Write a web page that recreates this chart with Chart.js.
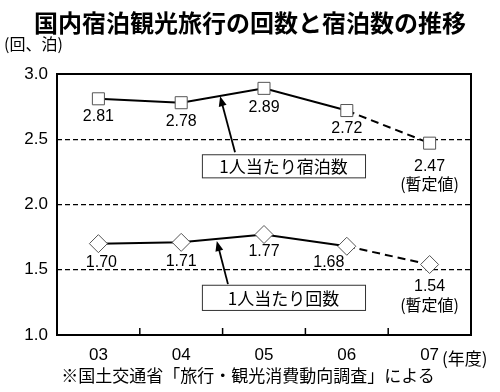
<!DOCTYPE html>
<html>
<head>
<meta charset="utf-8">
<script src="https://cdn.jsdelivr.net/npm/chart.js@4.4.0/dist/chart.umd.min.js"></script>
<style>
body { margin: 0; background: #fff; }
#wrap { position: relative; width: 500px; height: 392px; }
#c { display: block; }
.t { position: absolute; white-space: nowrap; font-family: 'Noto Sans CJK JP'; color: #000; line-height: 1; }
</style>
</head>
<body>
<div id="wrap">
  <canvas id="c" width="500" height="392"></canvas>
  <div class="t" style="left:0;width:500px;text-align:center;top:10px;font-size:24px;font-weight:700;">国内宿泊観光旅行の回数と宿泊数の推移</div>
  <div class="t" style="left:4px;top:35px;font-size:16px;">(回、泊)</div>
  <div class="t" style="left:442px;top:349px;font-size:17px;">(年度)</div>
  <div class="t" style="left:0;width:496px;text-align:center;top:366px;font-size:17px;">※国土交通省「旅行・観光消費動向調査」による</div>
</div>
<script>
// データ
const years = ['03', '04', '05', '06', '07'];
const stayNights = [2.81, 2.78, 2.89, 2.72, 2.47];   // 1人当たり宿泊数
const tripCount = [1.70, 1.71, 1.77, 1.68, 1.54];    // 1人当たり回数
const yTicks = [1.0, 1.5, 2.0, 2.5, 3.0];
const provisional = '(暫定値)';

// ラベル位置のずれ (px)
const labelDx = [[0, 0, 0, 0, 0], [3, 0, 0, -18, 0]];
const labelDy = [[18, 19, 19, 18, 23], [19, 19, 17, 16, 22]];

// 吹き出し (x は項目の位置, y は値)
const callouts = [
  { text: '1人当たり宿泊数', box: [1.25, 3.22, 2.385, 2.208], from: [1.65, 2.40], to: [1.47, 2.83] },
  { text: '1人当たり回数', box: [1.25, 3.22, 1.385, 1.192], from: [1.565, 1.39], to: [1.43, 1.72] }
];

const numFont = "'Liberation Sans', Arial, sans-serif";
const jpFont = "'Noto Sans CJK JP', sans-serif";

// 枠と x 軸の目盛り
const framePlugin = {
  id: 'frame',
  beforeDatasetsDraw(chart) {
    const { ctx, chartArea: a, scales: { x } } = chart;
    ctx.save();
    ctx.strokeStyle = '#000';
    ctx.lineWidth = 2;
    ctx.strokeRect(a.left, a.top, a.right - a.left, a.bottom - a.top);
    ctx.lineWidth = 1.5;
    for (let i = 0; i < years.length - 1; i++) {
      const px = (x.getPixelForValue(i) + x.getPixelForValue(i + 1)) / 2;
      ctx.beginPath();
      ctx.moveTo(px, a.bottom);
      ctx.lineTo(px, a.bottom - 7);
      ctx.stroke();
    }
    ctx.restore();
  }
};

// 数値ラベル
const valuePlugin = {
  id: 'values',
  afterDatasetsDraw(chart) {
    const ctx = chart.ctx;
    ctx.save();
    ctx.fillStyle = '#000';
    ctx.textAlign = 'center';
    ctx.textBaseline = 'middle';
    chart.data.datasets.forEach((ds, di) => {
      chart.getDatasetMeta(di).data.forEach((pt, i) => {
        const tx = pt.x + labelDx[di][i];
        const ty = pt.y + labelDy[di][i];
        ctx.font = '16px ' + numFont;
        ctx.fillText(ds.data[i].toFixed(2), tx, ty);
        if (i === ds.data.length - 1) {
          ctx.font = '16px ' + jpFont;
          ctx.fillText(provisional, tx, ty + 18);
        }
      });
    });
    ctx.restore();
  }
};

// 吹き出しと矢印
const calloutPlugin = {
  id: 'callouts',
  afterDatasetsDraw(chart) {
    const { ctx, scales: { x, y } } = chart;
    ctx.save();
    callouts.forEach(c => {
      const l = x.getPixelForValue(c.box[0]), r = x.getPixelForValue(c.box[1]);
      const t = y.getPixelForValue(c.box[2]), b = y.getPixelForValue(c.box[3]);
      ctx.fillStyle = '#fff';
      ctx.fillRect(l, t, r - l, b - t);
      ctx.strokeStyle = '#333';
      ctx.lineWidth = 1;
      ctx.strokeRect(l + 0.5, t + 0.5, r - l, b - t);
      ctx.fillStyle = '#000';
      ctx.font = '17px ' + jpFont;
      ctx.textAlign = 'center';
      ctx.textBaseline = 'middle';
      ctx.fillText(c.text, (l + r) / 2, (t + b) / 2 + 1);

      const fx = x.getPixelForValue(c.from[0]), fy = y.getPixelForValue(c.from[1]);
      const ex = x.getPixelForValue(c.to[0]), ey = y.getPixelForValue(c.to[1]);
      const ang = Math.atan2(ey - fy, ex - fx);
      ctx.strokeStyle = '#000';
      ctx.lineWidth = 1.8;
      ctx.beginPath();
      ctx.moveTo(fx, fy);
      ctx.lineTo(ex - 8 * Math.cos(ang), ey - 8 * Math.sin(ang));
      ctx.stroke();
      ctx.beginPath();
      ctx.moveTo(ex, ey);
      ctx.lineTo(ex - 10 * Math.cos(ang) + 4 * Math.sin(ang), ey - 10 * Math.sin(ang) - 4 * Math.cos(ang));
      ctx.lineTo(ex - 10 * Math.cos(ang) - 4 * Math.sin(ang), ey - 10 * Math.sin(ang) + 4 * Math.cos(ang));
      ctx.closePath();
      ctx.fill();
    });
    ctx.restore();
  }
};

const lastDashed = { borderDash: ctx => ctx.p1DataIndex === years.length - 1 ? [8, 5] : undefined };

new Chart(document.getElementById('c'), {
  type: 'line',
  data: {
    labels: years,
    datasets: [
      {
        label: '1人当たり宿泊数',
        data: stayNights,
        borderColor: '#000',
        borderWidth: 2,
        pointStyle: 'rect',
        pointRadius: 8.5,
        pointBackgroundColor: '#fff',
        pointBorderColor: '#555',
        pointBorderWidth: 1,
        segment: lastDashed
      },
      {
        label: '1人当たり回数',
        data: tripCount,
        borderColor: '#000',
        borderWidth: 2,
        pointStyle: 'rectRot',
        pointRadius: 9,
        pointBackgroundColor: '#fff',
        pointBorderColor: '#555',
        pointBorderWidth: 1,
        segment: lastDashed
      }
    ]
  },
  options: {
    responsive: false,
    animation: false,
    devicePixelRatio: 1,
    layout: { padding: { top: 74, right: 29, left: 0, bottom: 0 } },
    plugins: { legend: { display: false }, tooltip: { enabled: false } },
    scales: {
      x: {
        offset: true,
        grid: { display: false, drawTicks: false },
        border: { display: false },
        ticks: { color: '#000', font: { family: numFont, size: 17 }, padding: 10 },
        afterFit(s) { s.height = 57; }
      },
      y: {
        min: 1,
        max: 3,
        afterBuildTicks(s) { s.ticks = yTicks.map(v => ({ value: v })); },
        grid: {
          drawTicks: false,
          color: c => (c.tick.value === 1 || c.tick.value === 3) ? 'rgba(0,0,0,0)' : '#000',
          lineWidth: 1.3
        },
        border: { display: false, dash: [5, 3] },
        ticks: {
          color: '#000',
          font: { family: numFont, size: 17 },
          padding: 9,
          callback: v => Number(v).toFixed(1)
        },
        afterFit(s) { s.width = 57; }
      }
    }
  },
  plugins: [framePlugin, valuePlugin, calloutPlugin]
});
</script>
</body>
</html>
